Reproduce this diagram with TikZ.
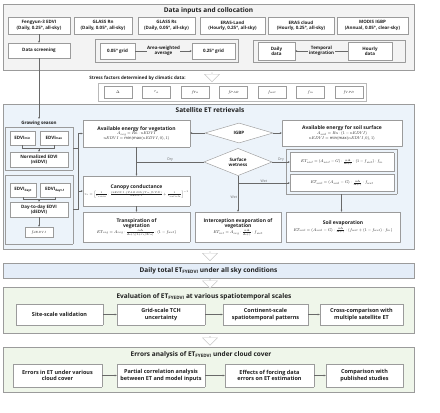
\documentclass[tikz,border=0pt]{standalone}
\usepackage{amsmath}
\usepackage{fontspec}
\setmainfont{Open Sans}
\usetikzlibrary{arrows.meta,shapes.geometric,shapes.arrows}
\definecolor{bordergray}{RGB}{155,155,155}
\definecolor{linegray}{RGB}{105,105,105}
\definecolor{topfill}{RGB}{243,243,243}
\definecolor{bluefill}{RGB}{236,243,250}
\definecolor{barfill}{RGB}{228,237,248}
\definecolor{greenfill}{RGB}{239,246,234}
\definecolor{txt}{RGB}{30,30,30}
\newcommand\fntT{\fontsize{13}{15}\selectfont\bfseries}
\newcommand\fntB{\fontsize{9}{10.5}\selectfont\bfseries}
\newcommand\fntC{\fontsize{10}{12}\selectfont\bfseries}
\newcommand\fntE{\fontsize{11}{13}\selectfont\bfseries}
\newcommand\fntM{\fontsize{8}{9.5}\selectfont\mdseries}
\newcommand\fntS{\fontsize{7}{8}\selectfont\mdseries}
\begin{document}
\begin{tikzpicture}[x=2pt,y=-2pt,text=txt,
  sz/.style 2 args={minimum width=#1*2pt,minimum height=#2*2pt},
  panel/.style={draw=bordergray,line width=1pt,inner sep=0pt},
  sbox/.style={draw=bordergray,fill=white,line width=0.9pt,inner sep=1pt,align=center,font=\fntB},
  dbox/.style={draw=bordergray,densely dotted,fill=white,line width=0.9pt,inner sep=1pt,align=center},
  grp/.style={draw=bordergray,densely dotted,line width=0.9pt,inner sep=0pt},
  ln/.style={draw=linegray,line width=0.8pt},
  arr/.style={ln,-{Stealth[length=4pt,width=3.5pt]}},
  lbl/.style={font=\fntS,text=linegray,inner sep=1.5pt},
  bigarrow/.style={single arrow,draw=gray!45,fill=white,line width=0.8pt,rotate=-90,minimum height=18pt,minimum width=30pt,single arrow head extend=6pt,inner sep=0pt},
  dia/.style={diamond,draw=bordergray,fill=white,line width=0.9pt,inner sep=0pt,font=\fntB,align=center}]
\useasboundingbox (0,0) rectangle (440,412);

% ---------- Data inputs and collocation ----------
\node[panel,fill=topfill,sz={411}{66}] (P1) at (208.5,37) {};
\node[font=\fntT] (T1) at (208.5,10.5) {Data inputs and collocation};
\node[sbox,sz={62}{17}] (s1) at (39,25.5) {Fengyun-3 EDVI\\(Daily, 0.25°, all-sky)};
\node[sbox,sz={58}{17}] (s2) at (103,25.5) {GLASS Rn\\(Daily, 0.05°, all-sky)};
\node[sbox,sz={57}{17}] (s3) at (166.5,25.5) {GLASS Rs\\(Daily, 0.05°, all-sky)};
\node[sbox,sz={65}{17}] (s4) at (232.5,25.5) {ERA5-Land\\(Hourly, 0.25°, all-sky)};
\node[sbox,sz={66}{17}] (s5) at (301,25.5) {ERA5 cloud\\(Hourly, 0.25°, all-sky)};
\node[sbox,sz={71}{17}] (s6) at (372.5,25.5) {MODIS IGBP\\(Annual, 0.05°, clear-sky)};
\node[sbox,sz={62}{15}] (screen) at (39,50.5) {Data screening};
\node[grp,sz={143}{23}] (GA) at (166.5,50.5) {};
\node[grp,sz={152}{22}] (GB) at (329,51) {};
\node[sbox,sz={35}{16}] (g005) at (117.5,51) {0.05° grid};
\node[sbox,sz={43}{16}] (g025) at (213.5,51) {0.25° grid};
\node[sbox,sz={37}{18}] (daily) at (276.5,51) {Daily\\data};
\node[sbox,sz={44}{18}] (hourly) at (370,51) {Hourly\\data};
\draw[arr] (s1.south) -- (screen.north);
\draw[arr] (g005.east) -- (g025.west) node[midway,fill=topfill,font=\fntB,align=center,inner sep=1pt] (awa) {Area-weighted\\average};
\draw[arr] (hourly.west) -- (daily.east) node[midway,fill=topfill,font=\fntB,align=center,inner sep=1pt] (tin) {Temporal\\integration};

% ---------- Stress factors ----------
\node[font=\fntB] (stl) at (137.5,78) {Stress factors determined by climatic data:};
\node[draw=bordergray!70,fill=white,line width=0.9pt,sz={268}{18}] (SC) at (232,92) {};
\foreach \nm/\cx/\tx in {k1/118/{$\Delta$},k2/156.5/{$r_a$},k3/195/{$f_{Ta}$},k4/233.5/{$f_{PAR}$},k5/272/{$f_{wet}$},k6/310.5/{$f_m$},k7/349/{$f_{VPD}$}}
  \node[draw=bordergray,fill=white,line width=0.9pt,sz={28}{12},font=\fntM] (\nm) at (\cx,92) {\tx};

% ---------- Satellite ET retrievals ----------
\node[panel,fill=bluefill,sz={411}{145}] (P2) at (208.5,176.5) {};
\node[font=\fntT] (T2) at (210,110.5) {Satellite ET retrievals};
\node[font=\fntB] (gs) at (39,123) {Growing season};
\draw[arr] (screen.south) -- (gs.north);

\node[grp,sz={68}{43}] (G1) at (39,148.5) {};
\node[sbox,sz={25}{14}] (emin) at (22.5,138) {EDVI\textsubscript{min}};
\node[sbox,sz={28}{14}] (emax) at (54,138) {EDVI\textsubscript{max}};
\node[sbox,sz={58}{15}] (nedvi) at (39,159.5) {Normalized EDVI\\(nEDVI)};
\coordinate (j1) at (39,148.5);
\draw[ln] (emin.south) |- (j1) -| (emax.south);
\draw[arr] (j1) -- (nedvi.north);

\node[grp,sz={68}{69}] (G2) at (39,209.5) {};
\node[sbox,sz={26}{14}] (edt) at (23,190) {EDVI\textsubscript{dayt}};
\node[sbox,sz={30}{14}] (edt1) at (55,190) {EDVI\textsubscript{dayt-1}};
\node[sbox,sz={58}{15}] (dedvi) at (39,209.5) {Day-to-day EDVI\\(dEDVI)};
\node[sbox,sz={28}{10},font=\fntM] (fded) at (39,232) {$f_{dEDVI}$};
\coordinate (j2) at (39,199.5);
\draw[ln] (edt.south) |- (j2) -| (edt1.south);
\draw[arr] (j2) -- (dedvi.north);
\draw[arr] (dedvi.south) -- (fded.north);

\node[dbox,sz={107}{27},font=\fntM] (avail) at (136.5,133.5) {{\fntC Available energy for vegetation}\\$A_{veg}=Rn\cdot nEDVI$\\$nEDVI=\min(\max(nEDVI,0),1)$};
\node[dia,sz={68}{20}] (igbp) at (239,133) {IGBP};
\node[dbox,sz={120}{26},font=\fntM] (soilA) at (342,133) {{\fntC Available energy for soil surface}\\$A_{soil}=Rn\cdot(1-nEDVI)$\\$nEDVI=\min(\max(nEDVI,0),1)$};
\node[dia,sz={68}{22}] (wet) at (238,162) {Surface\\wetness};
\node[dbox,sz={107}{30},font=\fntM] (canopy) at (136.5,191) {{\fntC Canopy conductance}\\[1pt]{\fontsize{7.5}{9}\selectfont$r_c=\left[\frac{1}{r_{cmin}}\cdot\frac{f_{dEDVI}\cdot f_{PAR}\cdot\min(f_{Ta},f_{VPD})}{nEDVI}+\frac{1}{r_{cuticle}}\right]^{-1}$}};
\node[grp,sz={111}{45}] (SG) at (341.5,171.5) {};
\node[dbox,sz={104}{19},font=\fntM] (f1) at (342,162) {$ET_{soil}=(A_{soil}-G)\cdot\frac{\alpha\Delta}{\Delta+\gamma}\cdot(1-f_{wet})\cdot f_m$};
\node[dbox,sz={104}{17},font=\fntM] (f2) at (342,183) {$ET_{soil}=(A_{soil}-G)\cdot\frac{\alpha\Delta}{\Delta+\gamma}\cdot f_{wet}$};

\node[dbox,sz={107}{30},font=\fntM] (trans) at (136.5,227) {{\fntC Transpiration of}\\{\fntC vegetation}\\[1pt]$ET_{veg}=A_{veg}\cdot\frac{\alpha\Delta}{\Delta+\gamma(1+r_c/2r_a)}\cdot(1-f_{wet})$};
\node[dbox,sz={86}{30},font=\fntM] (inter) at (238,227) {{\fntC Interception evaporation of}\\{\fntC vegetation}\\[1pt]$ET_{int}=A_{veg}\cdot\frac{\alpha\Delta}{\Delta+\gamma}\cdot f_{wet}$};
\node[dbox,sz={114}{30},font=\fntM] (soilE) at (343,227) {{\fntC Soil evaporation}\\[2pt]$ET_{soil}=(A_{soil}-G)\cdot\frac{\alpha\Delta}{\Delta+\gamma}\cdot(f_{wet}+(1-f_{wet})\cdot f_m)$};

\coordinate (bx) at (78,0);
\draw[ln] (G1.east) -- (G1.east -| bx);
\draw[ln] (G2.east) -- (G2.east -| bx) -- (avail.west -| bx);
\draw[arr] (avail.west -| bx) -- (avail.west);
\draw[arr] (canopy.west -| bx) -- (canopy.west);
\draw[arr] (igbp.west) -- (igbp.west -| avail.east);
\draw[arr] (igbp.east) -- (igbp.east -| soilA.west);
\draw[arr] (avail.south) -- (canopy.north);
\draw[ln] (wet.west) -- (wet.west -| avail.south) node[midway,above,lbl] (dryL) {Dry};
\draw[arr] (wet.east) -- (wet.east -| f1.west) node[midway,above,lbl] (dryR) {Dry};
\draw[arr] (wet.south) -- (inter.north) node[pos=0.6,left,lbl] (wetD) {Wet};
\draw[arr] (wet.south |- f2.west) -- (f2.west) node[midway,above,lbl] (wetR) {Wet};
\draw[arr] (SG.south) -- (SG.south |- soilE.north);
\draw[arr] (canopy.south) -- (trans.north);

% ---------- Daily total ----------
\node[panel,fill=barfill,sz={411}{15},font=\fntT] (P3) at (208.5,270.5) {Daily total ET\textsubscript{FYEDVI} under all sky conditions};

% ---------- Evaluation ----------
\node[panel,fill=greenfill,sz={411}{46}] (P4) at (208.5,310) {};
\node[font=\fntT] (T4) at (204,297) {Evaluation of ET\textsubscript{FYEDVI} at various spatiotemporal scales};
\node[dbox,sz={87}{21},font=\fntE] (e1) at (59.5,314.5) {Site-scale validation};
\node[dbox,sz={88}{21},font=\fntE] (e2) at (161,314.5) {Grid-scale TCH\\uncertainty};
\node[dbox,sz={85}{21},font=\fntE] (e3) at (265.5,314.5) {Continent-scale\\spatiotemporal patterns};
\node[dbox,sz={83}{21},font=\fntE] (e4) at (361.5,314.5) {Cross-comparison with\\multiple satellite ET};
\draw[arr] (e1) -- (e2);
\draw[arr] (e2) -- (e3);
\draw[arr] (e3) -- (e4);

% ---------- Errors analysis ----------
\node[panel,fill=greenfill,sz={411}{45}] (P5) at (208.5,369.5) {};
\node[font=\fntT] (T5) at (201,355) {Errors analysis of ET\textsubscript{FYEDVI} under cloud cover};
\node[dbox,sz={89}{23},font=\fntE] (r1) at (57.5,375.5) {Errors in ET under various\\cloud cover};
\node[dbox,sz={88}{23},font=\fntE] (r2) at (161,375.5) {Partial correlation analysis\\between ET and model inputs};
\node[dbox,sz={89}{23},font=\fntE] (r3) at (269.5,375.5) {Effects of forcing data\\errors on ET estimation};
\node[dbox,sz={77}{23},font=\fntE] (r4) at (364.5,375.5) {Comparison with\\published studies};
\draw[arr] (r1) -- (r2);
\draw[arr] (r2) -- (r3);
\draw[arr] (r3) -- (r4);

% ---------- hollow arrows ----------
\node[bigarrow] (ha1) at (212,77) {};
\node[bigarrow] (ha2) at (210,256) {};
\node[bigarrow] (ha3) at (210,283.5) {};
\node[bigarrow] (ha4) at (210,340.5) {};
\end{tikzpicture}
\end{document}
